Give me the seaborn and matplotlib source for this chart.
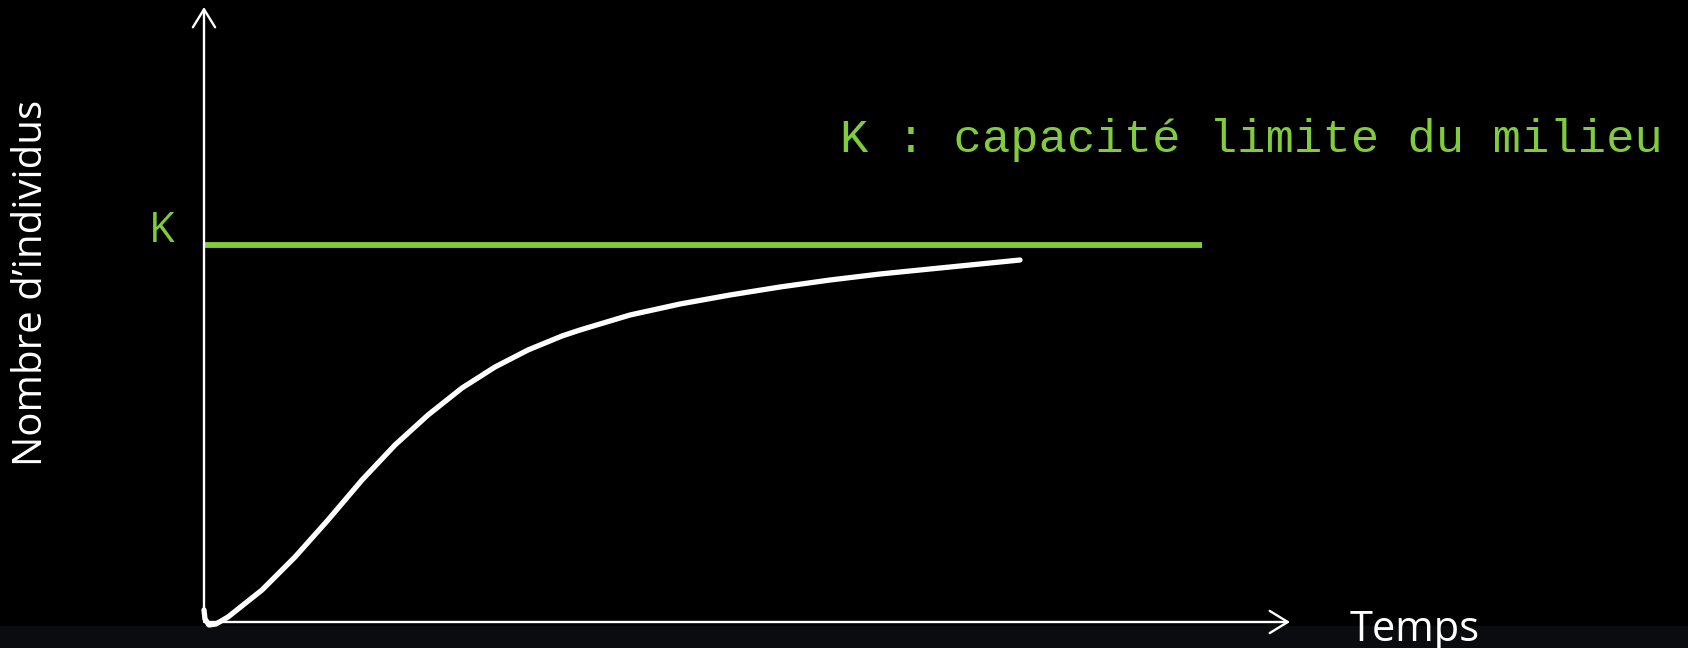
"""
Croissance logistique d'une population : courbe vers la capacité limite K.
"""

import matplotlib
matplotlib.use("Agg")
import matplotlib.pyplot as plt
import matplotlib.patches as mpatches
import pandas as pd
import seaborn as sns

# --- data (time, number of individuals) ---
temps = [0, 1, 5, 12, 24, 58, 91, 124, 158, 191, 224, 258, 291, 324, 358,
         376, 426, 476, 526, 576, 626, 676, 726, 776, 816]
individus = [12, 3, -3, -2, 5, 32, 65, 102, 142, 177, 207, 234, 255, 272, 286,
             292, 307, 318, 327, 335, 342, 348, 353, 358, 362]

K = 377
k_span = [0, 998]          # horizontal extent of the K line
t_max = 1086               # end of time axis arrow
n_max = 615                # end of population axis arrow

GREEN = "#80CC3C"
WHITE = "#FFFFFF"
BG = "#000000"
BAND = "#0B0C10"

curve_df = pd.DataFrame({"Temps": temps, "Individus": individus})
k_df = pd.DataFrame({"Temps": k_span, "Individus": [K, K]})

sns.set_theme(style="dark")
plt.rcParams["font.family"] = ["Open Sans", "DejaVu Sans"]

fig = plt.figure(figsize=(16.88, 6.48), dpi=100, facecolor=BG)
# darker strip at the bottom of the slide
fig.patches.append(mpatches.Rectangle((0, 0), 1, 22 / 648, transform=fig.transFigure,
                                      color=BAND, zorder=0))
ax = fig.add_axes([0, 0, 1, 1])
ax.set_zorder(1)
ax.set_facecolor("none")
ax.set_xlim(-204, 1484)
ax.set_ylim(-26, 622)
ax.axis("off")

# axes with open arrow heads
arrow = dict(arrowstyle="->,head_length=1.3,head_width=0.8", color=WHITE, lw=1.7,
             shrinkA=0, shrinkB=0, mutation_scale=10)
ax.annotate("", xy=(0, n_max), xytext=(0, 2), arrowprops=arrow)
ax.annotate("", xy=(t_max, 0), xytext=(0, 0), arrowprops=arrow)

# carrying capacity
sns.lineplot(data=k_df, x="Temps", y="Individus", color=GREEN, linewidth=4.2,
             ax=ax, solid_capstyle="butt")

# population curve
sns.lineplot(data=curve_df, x="Temps", y="Individus", sort=False, estimator=None,
             color=WHITE, linewidth=3.8, ax=ax, solid_capstyle="round",
             solid_joinstyle="round")

ax.text(-42, 391, "K", color=GREEN, fontsize=30, ha="center", va="center")
ax.text(1047, 482, "K : capacité limite du milieu", color=GREEN, fontsize=34,
        family="Liberation Mono", ha="center", va="center")
ax.text(1211, -8, "Temps", color=WHITE, fontsize=30, ha="center", va="center",
        clip_on=False)
ax.text(-172, 339, "Nombre d’individus", color=WHITE, fontsize=29, rotation=90,
        ha="center", va="center")

fig.savefig("out.png", dpi=100, facecolor=BG)
plt.close(fig)
